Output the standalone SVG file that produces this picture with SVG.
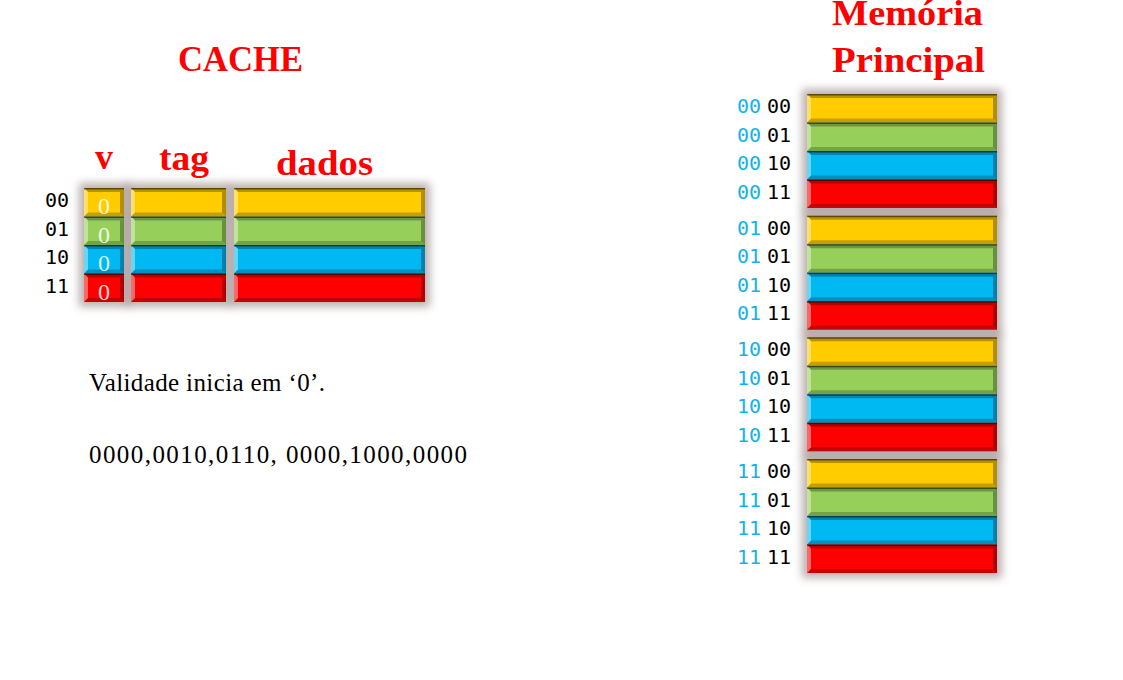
<svg xmlns="http://www.w3.org/2000/svg" xmlns:xlink="http://www.w3.org/1999/xlink" width="1123" height="680" viewBox="0 0 1123 680">
<style>
.ttl{font-family:"Liberation Serif",serif;font-weight:bold;fill:#ff0000;font-size:36px}
.lbl{font-family:"DejaVu Sans Mono",monospace;font-size:20px;fill:#000}
.blu{fill:#12b2ee}
.zero{font-family:"Liberation Serif",serif;font-size:24px;fill:#fff;fill-opacity:.85;text-anchor:middle}
.txt{font-family:"Liberation Serif",serif;font-size:25px;fill:#000}
.y{fill:#ffcc00}.g{fill:#96d05a}.b{fill:#00b9f2}.r{fill:#ff0000}
.halo{fill:#7a6464;opacity:.5;filter:url(#blur)}
.tp{fill:#000;fill-opacity:.28}.bt{fill:#000;fill-opacity:.22}.lf{fill:#fff;fill-opacity:.4}.rt{fill:#000;fill-opacity:.3}.ln{fill:#000;fill-opacity:.5}
</style>
<defs>
<filter id="blur" x="-20%" y="-20%" width="140%" height="140%"><feGaussianBlur stdDeviation="4"/></filter>
<g id="ov40"><polygon class="tp" points="0,0 40,0 36,4 4,4"/><polygon class="bt" points="0,28.5 40,28.5 36,24.5 4,24.5"/><polygon class="lf" points="0,0 4,4 4,24.5 0,28.5"/><polygon class="rt" points="40,0 36,4 36,24.5 40,28.5"/><rect class="ln" width="40" height="1.5"/></g>
<g id="ov95"><polygon class="tp" points="0,0 95,0 91,4 4,4"/><polygon class="bt" points="0,28.5 95,28.5 91,24.5 4,24.5"/><polygon class="lf" points="0,0 4,4 4,24.5 0,28.5"/><polygon class="rt" points="95,0 91,4 91,24.5 95,28.5"/><rect class="ln" width="95" height="1.5"/></g>
<g id="ov191"><polygon class="tp" points="0,0 191,0 187,4 4,4"/><polygon class="bt" points="0,28.5 191,28.5 187,24.5 4,24.5"/><polygon class="lf" points="0,0 4,4 4,24.5 0,28.5"/><polygon class="rt" points="191,0 187,4 187,24.5 191,28.5"/><rect class="ln" width="191" height="1.5"/></g>
<g id="ov190"><polygon class="tp" points="0,0 190,0 186,4 4,4"/><polygon class="bt" points="0,28.5 190,28.5 186,24.5 4,24.5"/><polygon class="lf" points="0,0 4,4 4,24.5 0,28.5"/><polygon class="rt" points="190,0 186,4 186,24.5 190,28.5"/><rect class="ln" width="190" height="1.5"/></g>
<g id="memgrp">
<rect class="halo" x="-5" y="-5" width="200" height="124"/>
<rect class="y" width="190" height="28.5"/><use xlink:href="#ov190"/>
<rect class="g" y="28.5" width="190" height="28.5"/><use xlink:href="#ov190" y="28.5"/>
<rect class="b" y="57" width="190" height="28.5"/><use xlink:href="#ov190" y="57"/>
<rect class="r" y="85.5" width="190" height="28.5"/><use xlink:href="#ov190" y="85.5"/>
</g>
</defs>

<g id="titles">
<text class="ttl" x="178" y="71" textLength="125" lengthAdjust="spacingAndGlyphs">CACHE</text>
<text class="ttl" x="832" y="25" textLength="151" lengthAdjust="spacingAndGlyphs">Memória</text>
<text class="ttl" x="832" y="72" textLength="153" lengthAdjust="spacingAndGlyphs">Principal</text>
<text class="ttl" x="104" y="169" text-anchor="middle">v</text>
<text class="ttl" x="159" y="170" textLength="50" lengthAdjust="spacingAndGlyphs">tag</text>
<text class="ttl" x="276" y="175" textLength="97" lengthAdjust="spacingAndGlyphs">dados</text>
</g>

<g id="cache">
<rect class="halo" x="79" y="183" width="50" height="124"/>
<rect class="halo" x="126" y="183" width="105" height="124"/>
<rect class="halo" x="229" y="183" width="201" height="124"/>
<g id="cache-v">
<rect class="y" x="84" y="188" width="40" height="28.5"/><use xlink:href="#ov40" x="84" y="188"/>
<rect class="g" x="84" y="216.5" width="40" height="28.5"/><use xlink:href="#ov40" x="84" y="216.5"/>
<rect class="b" x="84" y="245" width="40" height="28.5"/><use xlink:href="#ov40" x="84" y="245"/>
<rect class="r" x="84" y="273.5" width="40" height="28.5"/><use xlink:href="#ov40" x="84" y="273.5"/>
<text class="zero" x="104" y="214">0</text>
<text class="zero" x="104" y="242.5">0</text>
<text class="zero" x="104" y="271">0</text>
<text class="zero" x="104" y="299.5">0</text>
</g>
<g id="cache-tag">
<rect class="y" x="131" y="188" width="95" height="28.5"/><use xlink:href="#ov95" x="131" y="188"/>
<rect class="g" x="131" y="216.5" width="95" height="28.5"/><use xlink:href="#ov95" x="131" y="216.5"/>
<rect class="b" x="131" y="245" width="95" height="28.5"/><use xlink:href="#ov95" x="131" y="245"/>
<rect class="r" x="131" y="273.5" width="95" height="28.5"/><use xlink:href="#ov95" x="131" y="273.5"/>
</g>
<g id="cache-dados">
<rect class="y" x="234" y="188" width="191" height="28.5"/><use xlink:href="#ov191" x="234" y="188"/>
<rect class="g" x="234" y="216.5" width="191" height="28.5"/><use xlink:href="#ov191" x="234" y="216.5"/>
<rect class="b" x="234" y="245" width="191" height="28.5"/><use xlink:href="#ov191" x="234" y="245"/>
<rect class="r" x="234" y="273.5" width="191" height="28.5"/><use xlink:href="#ov191" x="234" y="273.5"/>
</g>
<g id="cache-idx">
<text class="lbl" x="45" y="207">00</text>
<text class="lbl" x="45" y="235.5">01</text>
<text class="lbl" x="45" y="264">10</text>
<text class="lbl" x="45" y="292.5">11</text>
</g>
</g>

<g id="memory">
<use xlink:href="#memgrp" x="807" y="94"/>
<use xlink:href="#memgrp" x="807" y="215.7"/>
<use xlink:href="#memgrp" x="807" y="337.3"/>
<use xlink:href="#memgrp" x="807" y="459"/>
<g id="mem-labels">
<text class="lbl" y="113"><tspan class="blu" x="737">00</tspan><tspan x="767">00</tspan></text>
<text class="lbl" y="141.5"><tspan class="blu" x="737">00</tspan><tspan x="767">01</tspan></text>
<text class="lbl" y="170"><tspan class="blu" x="737">00</tspan><tspan x="767">10</tspan></text>
<text class="lbl" y="198.5"><tspan class="blu" x="737">00</tspan><tspan x="767">11</tspan></text>
<text class="lbl" y="234.7"><tspan class="blu" x="737">01</tspan><tspan x="767">00</tspan></text>
<text class="lbl" y="263.2"><tspan class="blu" x="737">01</tspan><tspan x="767">01</tspan></text>
<text class="lbl" y="291.7"><tspan class="blu" x="737">01</tspan><tspan x="767">10</tspan></text>
<text class="lbl" y="320.2"><tspan class="blu" x="737">01</tspan><tspan x="767">11</tspan></text>
<text class="lbl" y="356.3"><tspan class="blu" x="737">10</tspan><tspan x="767">00</tspan></text>
<text class="lbl" y="384.8"><tspan class="blu" x="737">10</tspan><tspan x="767">01</tspan></text>
<text class="lbl" y="413.3"><tspan class="blu" x="737">10</tspan><tspan x="767">10</tspan></text>
<text class="lbl" y="441.8"><tspan class="blu" x="737">10</tspan><tspan x="767">11</tspan></text>
<text class="lbl" y="478"><tspan class="blu" x="737">11</tspan><tspan x="767">00</tspan></text>
<text class="lbl" y="506.5"><tspan class="blu" x="737">11</tspan><tspan x="767">01</tspan></text>
<text class="lbl" y="535"><tspan class="blu" x="737">11</tspan><tspan x="767">10</tspan></text>
<text class="lbl" y="563.5"><tspan class="blu" x="737">11</tspan><tspan x="767">11</tspan></text>
</g>
</g>

<g id="notes">
<text class="txt" x="89" y="391" textLength="236">Validade inicia em ‘0’.</text>
<text class="txt" x="89" y="463" textLength="378">0000,0010,0110, 0000,1000,0000</text>
</g>
</svg>
